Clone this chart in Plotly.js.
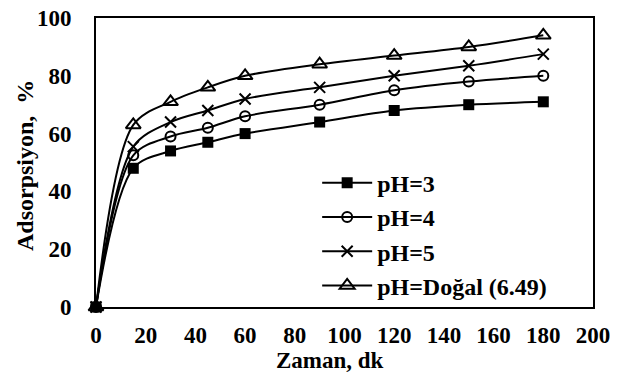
<!DOCTYPE html>
<html>
<head>
<meta charset="utf-8">
<script src="https://cdn.plot.ly/plotly-3.0.1.min.js"></script>
<style>
  html, body { margin: 0; padding: 0; background: #fff; }
  #chart { width: 626px; height: 378px; }
</style>
</head>
<body>
<div id="chart"></div>
<script>
// Contact time in minutes
const timeMin = [0, 15, 30, 45, 60, 90, 120, 150, 180];

// Adsorption (%) for each pH condition
const pH3 = [0, 48, 54, 57, 60, 64, 68, 70, 71];
const pH4 = [0, 52.5, 59, 62, 66, 70, 75, 78, 80];
const pH5 = [0, 55.5, 64, 68, 72, 76, 80, 83.5, 87.5];
const pHNatural = [0, 63, 71, 76, 80, 84, 87, 90, 94];

const seriesNames = ['pH=3', 'pH=4', 'pH=5', 'pH=Doğal (6.49)'];

const xTicks = [0, 20, 40, 60, 80, 100, 120, 140, 160, 180, 200];
const yTicks = [0, 20, 40, 60, 80, 100];

const FONT = 'Liberation Serif, Times New Roman, serif';

function series(name, y, marker) {
  return {
    type: 'scatter',
    mode: 'lines+markers',
    name: name,
    legendgroup: name,
    x: timeMin,
    y: y,
    cliponaxis: false,
    line: { color: '#000', width: 2, shape: 'spline', smoothing: 0.9 },
    marker: marker
  };
}

const data = [
  series(seriesNames[0], pH3, { symbol: 'square', size: 11, color: '#000' }),
  series(seriesNames[1], pH4, { symbol: 'circle-open', size: 10, color: '#000', line: { color: '#000', width: 2 } }),
  series(seriesNames[2], pH5, { symbol: 'x-thin-open', size: 11, color: '#000', line: { color: '#000', width: 2 } }),
  series(seriesNames[3], pHNatural, { symbol: 'triangle-up-open', size: 13, color: '#000', line: { color: '#000', width: 2 } })
];

const axisBase = {
  showline: true,
  mirror: true,
  linecolor: '#000',
  linewidth: 2,
  showgrid: false,
  zeroline: false,
  ticks: '',
  tickfont: { family: FONT, size: 23, color: '#000', weight: 'bold' }
};

const layout = {
  width: 626,
  height: 378,
  margin: { l: 96, r: 33, t: 18, b: 71 },
  paper_bgcolor: '#fff',
  plot_bgcolor: '#fff',
  showlegend: true,
  xaxis: Object.assign({}, axisBase, {
    range: [0, 200],
    tickvals: xTicks,
    ticklabelstandoff: 6
  }),
  yaxis: Object.assign({}, axisBase, {
    range: [0, 100],
    tickvals: yTicks,
    ticklabelstandoff: 18
  }),
  legend: {
    x: 0.445,
    y: 0.506,
    xanchor: 'left',
    yanchor: 'top',
    bgcolor: 'rgba(255,255,255,0)',
    borderwidth: 0,
    itemwidth: 50,
    tracegroupgap: 0,
    font: { family: FONT, size: 24, color: '#000', weight: 'bold' }
  },
  annotations: [
    {
      text: 'Zaman, dk',
      xref: 'paper', yref: 'paper',
      x: (330 - 96) / 497, y: -(360 - 307) / 289,
      xanchor: 'center', yanchor: 'middle',
      showarrow: false,
      font: { family: FONT, size: 23, color: '#000', weight: 'bold' }
    },
    {
      text: 'Adsorpsiyon,  %',
      xref: 'paper', yref: 'paper',
      x: -(96 - 25) / 497, y: (307 - 166) / 289,
      xanchor: 'center', yanchor: 'middle',
      textangle: -90,
      showarrow: false,
      font: { family: FONT, size: 24, color: '#000', weight: 'bold' }
    }
  ]
};

Plotly.newPlot('chart', data, layout, { displayModeBar: false, staticPlot: true });
</script>
</body>
</html>
